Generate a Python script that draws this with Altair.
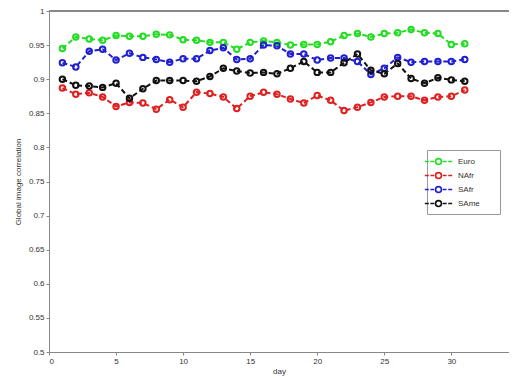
import altair as alt
import pandas as pd

days = list(range(1, 32))
euro = [0.945, 0.962, 0.959, 0.957, 0.964, 0.963, 0.963, 0.966, 0.965, 0.958,
        0.957, 0.954, 0.954, 0.944, 0.954, 0.956, 0.954, 0.950, 0.951, 0.951,
        0.955, 0.964, 0.967, 0.962, 0.967, 0.968, 0.973, 0.968, 0.967, 0.951, 0.952]
nafr = [0.887, 0.878, 0.880, 0.874, 0.860, 0.866, 0.865, 0.856, 0.870, 0.859,
        0.881, 0.879, 0.874, 0.857, 0.875, 0.881, 0.878, 0.871, 0.865, 0.876,
        0.869, 0.854, 0.859, 0.866, 0.874, 0.875, 0.875, 0.869, 0.874, 0.875, 0.884]
safr = [0.924, 0.918, 0.941, 0.944, 0.928, 0.938, 0.932, 0.929, 0.925, 0.930,
        0.930, 0.942, 0.946, 0.929, 0.930, 0.950, 0.949, 0.937, 0.937, 0.928,
        0.931, 0.931, 0.926, 0.907, 0.916, 0.932, 0.925, 0.926, 0.926, 0.926, 0.929]
same = [0.900, 0.891, 0.890, 0.888, 0.894, 0.872, 0.886, 0.898, 0.898, 0.898,
        0.897, 0.904, 0.916, 0.912, 0.909, 0.910, 0.908, 0.916, 0.926, 0.910,
        0.910, 0.924, 0.937, 0.913, 0.908, 0.923, 0.901, 0.894, 0.902, 0.899, 0.897]

series = ["Euro", "NAfr", "SAfr", "SAme"]
colors = ["#22dd22", "#e02020", "#2020d0", "#111111"]
x_ticks = [0, 5, 10, 15, 20, 25, 30, 35]
y_ticks = [0.5, 0.55, 0.6, 0.65, 0.7, 0.75, 0.8, 0.85, 0.9, 0.95, 1.0]

rows = []
for name, vals in zip(series, [euro, nafr, safr, same]):
    for d, v in zip(days, vals):
        rows.append({"day": d, "value": v, "region": name})
df = pd.DataFrame(rows)

legend_symbol = ("M-2.1,0H-1.5M-1.25,0H-0.65M0.65,0H1.25M1.5,0H2.1"
                 "M-0.45,0A0.45,0.45 0 1,1 0.45,0A0.45,0.45 0 1,1 -0.45,0")

x_scale = alt.Scale(domain=[0, 34.3], nice=False, zero=False)
y_scale = alt.Scale(domain=[y_ticks[0], y_ticks[-1]], nice=False, zero=False)
x_axis = alt.Axis(values=x_ticks, format="d", grid=False, labelOverlap=False)
y_axis = alt.Axis(values=y_ticks, format="~g", grid=False, labelOverlap=False,
                  labelBound=False)

x = alt.X("day:Q", title="day", scale=x_scale, axis=x_axis)
y = alt.Y("value:Q", title="Global image correlation", scale=y_scale, axis=y_axis)
color = alt.Color("region:N", scale=alt.Scale(domain=series, range=colors),
                  sort=series,
                  legend=alt.Legend(title=None, orient="none", legendX=378, legendY=139,
                                    symbolType=legend_symbol, symbolSize=169,
                                    symbolStrokeWidth=1.6, symbolFillColor="transparent",
                                    labelOffset=12, labelFontSize=8, labelColor="#333",
                                    labelExpr="datum.label + '\u2003\u2003\u200b'",
                                    strokeColor="#999", fillColor="white",
                                    padding=4, rowPadding=0))

lines = alt.Chart(df).mark_line(strokeDash=[5, 3], strokeWidth=2).encode(
    x=x, y=y, color=color, detail="region:N", order="day:Q")
points = alt.Chart(df).mark_point(filled=False, size=30, strokeWidth=2, opacity=1).encode(
    x=x, y=y, color=color)
top_border = alt.Chart(df).mark_rule(color="#888", strokeWidth=1).encode(
    y=alt.YDatum(y_ticks[-1], scale=y_scale, axis=y_axis, title="Global image correlation"))

chart = alt.layer(lines, points, top_border).properties(
    width=460, height=341,
    autosize=alt.AutoSizeParams(type="none"),
    padding={"left": 41, "top": 3, "right": 0, "bottom": 25},
).configure_view(strokeWidth=0).configure_axis(
    labelFont="Liberation Sans", titleFont="Liberation Sans",
    labelFontSize=8, titleFontSize=8, titleFontWeight="normal",
    labelColor="#333", titleColor="#333",
    domainColor="#888", tickColor="#888", tickSize=3, labelPadding=2,
).configure_axisY(titlePadding=6).configure_axisX(titlePadding=2).configure_legend(
    labelFont="Liberation Sans")

chart.save("out.html", embed_options={"renderer": "svg", "actions": False})
